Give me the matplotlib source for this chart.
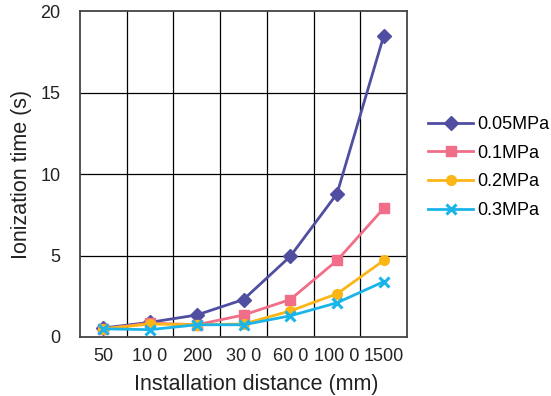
import matplotlib.pyplot as plt

plt.rcParams['font.family'] = ['Liberation Sans', 'DejaVu Sans']

# distances (category labels as printed in the original)
distances = ["50", "10 0", "200", "30 0", "60 0", "100 0", "1500"]

# ionization time (s) per pressure
t_005 = [0.55, 0.9, 1.35, 2.3, 4.95, 8.8, 18.5]
t_01 = [0.5, 0.85, 0.75, 1.35, 2.3, 4.7, 7.9]
t_02 = [0.5, 0.8, 0.75, 0.8, 1.6, 2.65, 4.7]
t_03 = [0.5, 0.45, 0.75, 0.75, 1.3, 2.1, 3.4]

fig = plt.figure(figsize=(5.51, 3.96), dpi=100)
ax = fig.add_axes([0.145, 0.149, 0.594, 0.823])

x = range(len(distances))
ax.plot(x, t_005, color="#4f4ea0", marker="D", ms=7, lw=2, label="0.05MPa", zorder=3)
ax.plot(x, t_01, color="#f06e88", marker="s", ms=7, lw=2, label="0.1MPa", zorder=4)
ax.plot(x, t_02, color="#fbb616", marker="o", ms=7, lw=2, label="0.2MPa", zorder=5)
ax.plot(x, t_03, color="#1ab4e8", marker="x", ms=7, mew=2.2, lw=2, label="0.3MPa", zorder=6)

ax.set_xlim(-0.5, len(distances) - 0.5)
ax.set_ylim(0, 20)
ax.set_xticks(list(x))
ax.set_xticklabels(distances)
ax.set_yticks([0, 5, 10, 15, 20])

# grid: vertical lines between categories, horizontal at y ticks
for b in range(1, len(distances)):
    ax.axvline(b - 0.5, color="black", lw=0.9, zorder=1)
for yv in [5, 10, 15]:
    ax.axhline(yv, color="black", lw=0.9, zorder=1)

for s in ax.spines.values():
    s.set_color("#444444")
    s.set_linewidth(1.3)

ax.tick_params(length=0, labelsize=13, colors="#222222")
ax.tick_params(axis="x", pad=8)
ax.tick_params(axis="y", pad=14)
ax.set_xlabel("Installation distance (mm)", fontsize=15.5, color="#222222", labelpad=7)
ax.xaxis.set_label_coords(0.54, -0.115)
ax.set_ylabel("Ionization time (s)", fontsize=15.5, color="#222222", labelpad=6)

ax.legend(loc="center left", bbox_to_anchor=(1.064, 0.52), frameon=False,
          borderaxespad=0, borderpad=0, fontsize=13, handlelength=2.5,
          labelspacing=0.65, handletextpad=0.2)

fig.savefig("out.png", dpi=100)
